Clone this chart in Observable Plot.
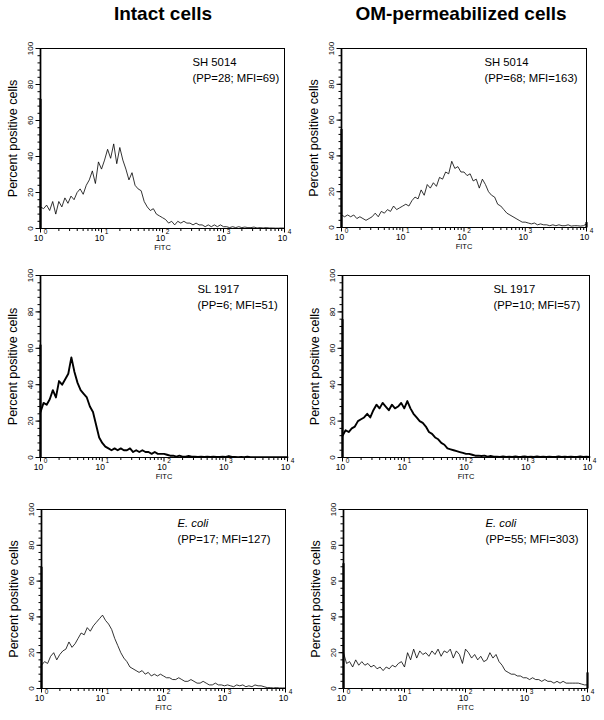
<!DOCTYPE html>
<html><head><meta charset="utf-8">
<script src="https://cdn.jsdelivr.net/npm/d3@7"></script>
<script src="https://cdn.jsdelivr.net/npm/@observablehq/plot@0.6"></script>
<style>
body{margin:0;background:#fff;font-family:"Liberation Sans",Arial,sans-serif}
#root{position:relative;width:604px;height:720px;overflow:hidden;background:#fff}
.title{position:absolute;font-weight:bold;font-size:19px;line-height:19px;transform:translateX(-50%);white-space:nowrap;color:#000}
.panel{position:absolute}
.panel svg{display:block;overflow:visible;max-width:none}
</style></head><body><div id="root"></div>
<script>
// ---- data ----
const columnTitles = ["Intact cells", "OM-permeabilized cells"];
const strains = ["SH 5014", "SH 5014", "SL 1917", "SL 1917", "E. coli", "E. coli"];
const stats = ["(PP=28; MFI=69)", "(PP=68; MFI=163)", "(PP=6; MFI=51)", "(PP=10; MFI=57)", "(PP=17; MFI=127)", "(PP=55; MFI=303)"];
const yTicks = [0, 20, 40, 60, 80, 100];
const xTickValues = [1, 10, 100, 1000, 10000];
const xTickExps = ["0", "1", "2", "3", "4"];
const xLabel = "FITC";
const yLabel = "Percent positive cells";
const channelsPerDecade = 20;   // each series: one value every 0.05 decade from 10^0 to 10^4
const leftSpike = [72, 55, 62, 76, 68, 70];   // counts piled in the first channel
const rightSpike = [0, 3, 0, 0, 0, 9];        // counts piled in the last channel

const intactSH = [12,11,13,10,15,8,15,12,17,14,18,16,20,22,19,24,27,32,25,37,
  33,38,44,39,47,36,45,38,33,27,31,24,22,21,15,12,10,11,8,7,
  6,5,3,4,2,4,3,4,3,3,2,3,2,2,1,2,1,2,1,2,
  1,1,0.5,1,0.5,1,0.5,0.8,0.5,0.5,0.8,0.3,0.5,0.3,0.5,0.3,0.3,0.2,0.2,0.3,0.2];
const omSH = [7,6,7,6,7,5,6,5,4,5,6,8,6,9,8,10,9,12,10,11,
  12,13,12,15,17,16,21,18,24,22,25,23,28,27,31,30,37,33,34,31,
  31,29,30,26,27,22,27,24,20,18,17,13,12,10,8,7,6,5,4,3,
  3,2.5,2,2.5,1.5,2,1.5,1.5,1,1.5,1,1.5,1,1,1.5,0.8,1,1,0.8,1,2];
const intactSL = [25,30,29,32,37,33,42,40,43,46,55,47,41,37,35,33,28,25,18,11,
  8,6,5,4,5,4,5,4,4,5,3,4,3,4,3,3,2,3,2,2,
  2,1.5,1,1,0.5,1,0.5,0.5,0.8,0.5,0.5,0.3,0.5,0.3,0.5,0.3,0.5,0.3,0.3,0.5,
  0.3,0.8,0.3,0.3,0.2,0.3,0.2,0.5,0.2,0.2,0.2,0.2,0.2,0.2,0.2,0.2,0.2,0.2,0.2,0.2,0.2];
const omSL = [12,15,14,16,17,20,21,22,24,22,26,29,27,30,28,26,29,27,28,30,
  27,31,27,24,22,20,19,17,14,13,11,10,8,7,5,4.5,4,3.5,3,2.5,
  2,2,1.5,1,1,0.8,1,0.5,0.8,0.5,0.5,0.3,0.6,0.3,0.5,0.3,0.6,0.3,0.4,0.6,
  0.3,0.5,0.3,0.6,0.3,0.4,0.3,0.5,0.3,0.3,0.6,0.3,0.4,0.3,0.5,0.3,0.3,0.6,0.3,0.4,0.3];
const intactEcoli = [13,15,14,18,20,16,19,21,22,26,23,25,28,31,30,34,32,35,37,39,
  41,38,36,33,28,24,20,17,15,12,11,10,9,10,8,9,7,8,7,8,
  7,6,6,5,5,6,5,4,4,5,4,3,3,4,3,2,2,3,2,2,
  1.5,2,1.5,1,2,1.5,2,1,1.5,1,2,1.5,1.5,1,0.5,0.5,0.3,0.5,0.3,0.3,0.3];
const omEcoli = [20,14,15,12,16,13,15,13,14,12,13,11,12,10,12,11,13,12,14,15,
  12,20,16,22,17,21,19,20,18,21,19,22,18,21,20,22,17,21,19,14,
  22,20,17,19,16,18,15,16,20,17,19,15,13,10,9,8,8,7,7,6,
  6,5,6,5,5,4,5,4,4,3,4,3,4,3,3,3,3,3,2.5,2,2];

// ---- layout (page pixel boxes of each plotting frame: left, top, right, bottom) ----
const panels = [
  {values: intactSH,    box: [40, 48, 284, 228],  tx: 152, thick: false},
  {values: omSH,        box: [341, 48, 586, 227], tx: 143, thick: false},
  {values: intactSL,    box: [40, 275, 287, 457], tx: 157, thick: true},
  {values: omSL,        box: [342, 275, 589, 457], tx: 151, thick: true},
  {values: intactEcoli, box: [41, 509, 285, 688], tx: 136, thick: false},
  {values: omEcoli,     box: [343, 509, 587, 688], tx: 142, thick: false}
];
const titlePos = [[163, 4], [461, 4]];

const root = document.getElementById("root");
columnTitles.forEach((t, i) => {
  const d = document.createElement("div");
  d.className = "title";
  d.textContent = t;
  d.style.left = titlePos[i][0] + "px";
  d.style.top = titlePos[i][1] + "px";
  root.appendChild(d);
});

const minorX = [];
for (let k = 0; k < 4; k++) for (let m = 2; m <= 9; m++) minorX.push(m * xTickValues[k]);
const minorY = d3.range(0, 101, 4);
const xTicks = xTickValues.map((v, i) => ({v, e: xTickExps[i]}));
const font = "'Liberation Sans', Arial, Helvetica, sans-serif";

panels.forEach((p, idx) => {
  const [L, T, R, B] = p.box;
  const mL = 40, mT = 12, mR = 14, mB = 30;
  const series = p.values.map((y, i) => ({x: Math.pow(10, i / channelsPerDecade), y}));
  const spikes = [{x: xTickValues[0], v: leftSpike[idx]}, {x: xTickValues[4], v: rightSpike[idx]}].filter(d => d.v > 0);
  const italic = strains[idx] === "E. coli";
  const marks = [
    // grey left edge of the frame
    Plot.ruleX([xTickValues[0]], {x: d => d, stroke: "#8c8c8c", strokeWidth: 2.6}),
    Plot.line(series, {x: "x", y: "y", stroke: "#000", strokeWidth: p.thick ? 1.9 : 0.8}),
    Plot.frame({stroke: "#000", strokeWidth: 1}),
    // pile-up in the first (and last) channel
    Plot.link(spikes, {x1: "x", x2: "x", y1: () => 0, y2: "v", stroke: "#000", strokeWidth: 2.2}),
    // outward ticks
    Plot.ruleX(minorX, {x: d => d, y1: () => 0, y2: () => 0, insetBottom: -3, stroke: "#000", strokeWidth: 1}),
    Plot.ruleX(xTickValues, {x: d => d, y1: () => 0, y2: () => 0, insetBottom: -4.5, stroke: "#000", strokeWidth: 1}),
    Plot.ruleY(minorY, {y: d => d, x1: () => 1, x2: () => 1, insetLeft: -2.5, stroke: "#000", strokeWidth: 1}),
    Plot.ruleY(yTicks, {y: d => d, x1: () => 1, x2: () => 1, insetLeft: -4.5, stroke: "#000", strokeWidth: 1}),
    // tick labels
    Plot.text(yTicks, {y: d => d, text: d => String(d), frameAnchor: "left", rotate: -90, dx: -10.5, fontSize: 8, textAnchor: "middle", lineAnchor: "middle", fill: "#000"}),
    Plot.text(xTicks, {x: "v", text: () => "10", frameAnchor: "bottom", dy: 9.5, dx: -2, fontSize: 8.5, textAnchor: "middle", lineAnchor: "middle", fill: "#000"}),
    Plot.text(xTicks, {x: "v", text: "e", frameAnchor: "bottom", dy: 3, dx: 3.3, fontSize: 6.5, textAnchor: "start", lineAnchor: "middle", fill: "#000"}),
    Plot.text([xLabel], {frameAnchor: "bottom", dy: 19, fontSize: 7.5, lineAnchor: "middle", fill: "#000"}),
    Plot.text([yLabel], {frameAnchor: "left", rotate: -90, dx: -27.5, fontSize: 12.5, textAnchor: "middle", lineAnchor: "middle", fill: "#000"}),
    Plot.text([strains[idx]], {frameAnchor: "top-left", dx: p.tx, dy: 14, fontSize: 11.3, textAnchor: "start", lineAnchor: "middle", fontStyle: italic ? "italic" : "normal", fill: "#000"}),
    Plot.text([stats[idx]], {frameAnchor: "top-left", dx: p.tx, dy: 29.5, fontSize: 11.3, textAnchor: "start", lineAnchor: "middle", fill: "#000"})
  ];
  const chart = Plot.plot({
    width: (R - L) + mL + mR,
    height: (B - T) + mT + mB,
    marginLeft: mL, marginTop: mT, marginRight: mR, marginBottom: mB,
    x: {type: "log", domain: [1, 10000], axis: null},
    y: {domain: [0, 100], axis: null},
    style: {fontFamily: font, color: "#000", background: "transparent", overflow: "visible"},
    marks
  });
  const wrap = document.createElement("div");
  wrap.className = "panel";
  wrap.style.left = (L - mL) + "px";
  wrap.style.top = (T - mT) + "px";
  wrap.appendChild(chart);
  root.appendChild(wrap);
});
</script></body></html>
